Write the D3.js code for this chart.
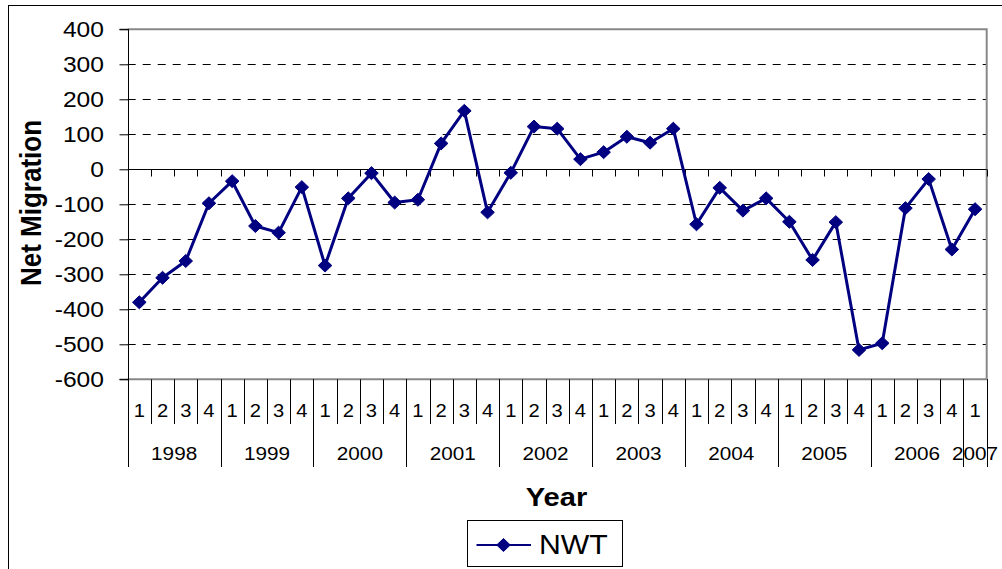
<!DOCTYPE html>
<html>
<head>
<meta charset="utf-8">
<script src="https://cdn.jsdelivr.net/npm/d3@7"></script>
<style>
  html, body { margin: 0; padding: 0; background: #fff; }
  svg { display: block; }
  text { font-family: "Liberation Sans", Arial, sans-serif; fill: #000; }
</style>
</head>
<body>
<svg id="chart" width="1002" height="569"></svg>
<script>
// ---- data ----
const quarters = ["1","2","3","4","1","2","3","4","1","2","3","4","1","2","3","4",
                  "1","2","3","4","1","2","3","4","1","2","3","4","1","2","3","4",
                  "1","2","3","4","1"];
const years = ["1998","1999","2000","2001","2002","2003","2004","2005","2006","2007"];
const yearSpans = [4,4,4,4,4,4,4,4,4,1];
const nwt = [-380,-310,-262,-97, -34,-162,-181,-51, -275,-83,-11,-95, -87,74,167,-123,
             -10,122,116,29, 49,93,76,116, -157,-53,-118,-83, -150,-259,-151,-516,
             -497,-111,-28,-229, -114];
const yTicks = [400,300,200,100,0,-100,-200,-300,-400,-500,-600];
const seriesName = "NWT";
const yTitle = "Net Migration";
const xTitle = "Year";

// ---- layout ----
const SX = 1.12; // horizontal text stretch of the reference
const plot = { left: 127.7, right: 986.7, top: 29.3, bottom: 379.3 };
const svg = d3.select("#chart");

const x = d3.scaleBand().domain(d3.range(nwt.length)).range([plot.left, plot.right]).padding(0);
const y = d3.scaleLinear().domain([-600, 400]).range([plot.bottom, plot.top]);
const cx = i => x(i) + x.bandwidth() / 2;

function stext(g, tx, ty, str, size, anchor, weight) {
  return g.append("text")
    .attr("transform", `translate(${tx},${ty}) scale(${SX},1)`)
    .attr("text-anchor", anchor || "middle")
    .style("font-size", size + "px")
    .style("font-weight", weight || "normal")
    .text(str);
}

// outer chart frame
svg.append("rect").attr("x", 8.5).attr("y", 5.5).attr("width", 1010).attr("height", 600)
  .attr("fill", "none").attr("stroke", "#000").attr("stroke-width", 1);

// gridlines (dashed)
svg.append("g").selectAll("line")
  .data(yTicks.filter(v => v !== 0 && v !== 400))
  .join("line")
  .attr("x1", plot.left).attr("x2", plot.right)
  .attr("y1", d => Math.round(y(d)) + 0.5).attr("y2", d => Math.round(y(d)) + 0.5)
  .attr("stroke", "#000").attr("stroke-width", 1).attr("stroke-dasharray", "8,7");

// plot border (gray top/right/bottom)
svg.append("path")
  .attr("d", `M${plot.left},${plot.top}H${plot.right}V${plot.bottom}H${plot.left}`)
  .attr("fill", "none").attr("stroke", "#888").attr("stroke-width", 2);

// y axis
const yAxis = d3.axisLeft(y).tickValues(yTicks).tickSize(9).tickFormat(d3.format("d"));
const ya = svg.append("g").attr("transform", `translate(${Math.round(plot.left) + 0.5},0)`).call(yAxis);
ya.select(".domain").attr("stroke", "#000").attr("d", `M-9,${plot.top}H0V${plot.bottom}H-9`);
ya.selectAll(".tick line").attr("stroke", "#000");
ya.selectAll(".tick text").remove();
const yl = svg.append("g");
yTicks.forEach(v => stext(yl, 104, y(v) + 8, String(v), 22, "end"));

// zero line with category ticks
const zy = Math.round(y(0)) + 0.5;
svg.append("line").attr("x1", plot.left).attr("x2", plot.right).attr("y1", zy).attr("y2", zy)
  .attr("stroke", "#000").attr("stroke-width", 1);
const bounds = d3.range(nwt.length + 1).map(i => i < nwt.length ? x(i) : plot.right);
svg.append("g").selectAll("line").data(bounds.slice(1)).join("line")
  .attr("x1", d => Math.round(d) + 0.5).attr("x2", d => Math.round(d) + 0.5)
  .attr("y1", zy).attr("y2", zy + 7).attr("stroke", "#000");

// multi-level category labels
const cat = svg.append("g");
bounds.forEach(b => {
  cat.append("line").attr("x1", Math.round(b) + 0.5).attr("x2", Math.round(b) + 0.5)
    .attr("y1", plot.bottom).attr("y2", 424).attr("stroke", "#000");
});
quarters.forEach((q, i) => stext(cat, cx(i), 417, q, 18));
let idx = 0;
const yearBounds = [0];
yearSpans.forEach(s => { idx += s; yearBounds.push(idx); });
yearBounds.forEach(k => {
  const b = k < nwt.length ? x(k) : plot.right;
  cat.append("line").attr("x1", Math.round(b) + 0.5).attr("x2", Math.round(b) + 0.5)
    .attr("y1", plot.bottom).attr("y2", 467).attr("stroke", "#000");
});
years.forEach((yr, j) => {
  const a = yearBounds[j], b = yearBounds[j + 1];
  const left = x(a), right = b < nwt.length ? x(b) : plot.right;
  stext(cat, (left + right) / 2, 460, yr, 18.5);
});

// series line
const line = d3.line().x((d, i) => cx(i)).y(d => y(d));
svg.append("path").datum(nwt).attr("d", line)
  .attr("fill", "none").attr("stroke", "#000080").attr("stroke-width", 3)
  .attr("stroke-linejoin", "round");

const diamond = "M0,-6.5L6.8,0L0,6.5L-6.8,0Z";
svg.append("g").selectAll("path").data(nwt).join("path")
  .attr("d", diamond)
  .attr("transform", (d, i) => `translate(${cx(i)},${y(d)})`)
  .attr("fill", "#000080").attr("stroke", "#000080").attr("stroke-width", 1);

// axis titles
stext(svg, 556.5, 506, xTitle, 26, "middle", "bold");
svg.append("text")
  .attr("transform", `translate(${41},${203}) scale(${SX},1) rotate(-90)`)
  .attr("text-anchor", "middle")
  .style("font-size", "26px").style("font-weight", "bold")
  .text(yTitle);

// legend
const lg = svg.append("g");
lg.append("rect").attr("x", 467.5).attr("y", 520.5).attr("width", 155).attr("height", 46)
  .attr("fill", "#fff").attr("stroke", "#000").attr("stroke-width", 1);
lg.append("line").attr("x1", 476.5).attr("x2", 531).attr("y1", 545).attr("y2", 545)
  .attr("stroke", "#000080").attr("stroke-width", 2);
lg.append("path").attr("d", diamond).attr("transform", "translate(503.5,545)")
  .attr("fill", "#000080").attr("stroke", "#000080");
stext(lg, 539, 554, seriesName, 27, "start");
</script>
</body>
</html>
